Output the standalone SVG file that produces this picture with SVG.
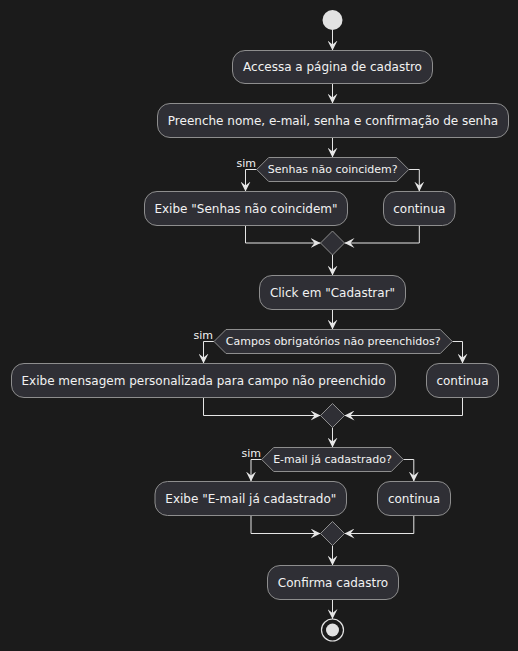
<svg xmlns="http://www.w3.org/2000/svg" width="518" height="651" viewBox="0 0 518 651">
<defs>
<style>
.bg{fill:#1b1b1b}
.box{fill:#2f2f35;stroke:#8e8e8e;stroke-width:1}
.hex{fill:#2f2f35;stroke:#8e8e8e;stroke-width:1}
.t{font-family:"DejaVu Sans",sans-serif;font-size:12px;fill:#f2f2f2;text-anchor:middle}
.td{font-family:"DejaVu Sans",sans-serif;font-size:11px;fill:#f2f2f2;text-anchor:middle}
.ts{font-family:"DejaVu Sans",sans-serif;font-size:11px;fill:#f2f2f2;text-anchor:end}
.ln{fill:none;stroke:#e6e6e6;stroke-width:1;marker-end:url(#ah)}
</style>
<marker id="ah" viewBox="0 0 10 10" refX="10" refY="5" markerWidth="10" markerHeight="10" markerUnits="userSpaceOnUse" orient="auto">
<path d="M0,0 L10,5 L0,10 L4,5 Z" fill="#e6e6e6"/>
</marker>
</defs>
<rect class="bg" x="0" y="0" width="518" height="651"/>

<g id="connectors">
<path class="ln" d="M332.5,30 V50.5"/>
<path class="ln" d="M332.5,83.5 V103.5"/>
<path class="ln" d="M332.5,137.5 V157.5"/>
<path class="ln" d="M256.7,169.5 H245.5 V191.5"/>
<path class="ln" d="M408.7,169.5 H419.3 V191.5"/>
<path class="ln" d="M245.5,225.5 V243 H320.5"/>
<path class="ln" d="M419.3,225.5 V243 H344.5"/>
<path class="ln" d="M332.5,255 V275.5"/>
<path class="ln" d="M332.5,309.5 V329.5"/>
<path class="ln" d="M214,341.5 H203.5 V363.5"/>
<path class="ln" d="M452.3,341.5 H462.5 V363.5"/>
<path class="ln" d="M203.5,397.5 V415.5 H320.5"/>
<path class="ln" d="M462.5,397.5 V415.5 H344.5"/>
<path class="ln" d="M332.5,427.5 V447.5"/>
<path class="ln" d="M261.7,459.5 H251 V481.5"/>
<path class="ln" d="M403.3,459.5 H413.8 V481.5"/>
<path class="ln" d="M251,515.5 V533.5 H320.5"/>
<path class="ln" d="M413.8,515.5 V533.5 H344.5"/>
<path class="ln" d="M332.5,545.5 V565.5"/>
<path class="ln" d="M332.5,599.5 V619"/>
</g>

<g id="start"><circle cx="332.5" cy="20" r="10" fill="#e2e2e2"/></g>

<g id="n1"><rect class="box" x="232.5" y="50.5" width="200" height="33" rx="12.5"/><text class="t" x="332.5" y="71.3">Accessa a página de cadastro</text></g>
<g id="n2"><rect class="box" x="157.5" y="103.5" width="351" height="34" rx="12.5"/><text class="t" x="333" y="124.8">Preenche nome, e-mail, senha e confirmação de senha</text></g>

<g id="d1"><polygon class="hex" points="256.7,169.5 268.7,157.5 396.7,157.5 408.7,169.5 396.7,181.5 268.7,181.5"/><text class="td" x="332.7" y="173.4">Senhas não coincidem?</text><text class="ts" x="256" y="166.5">sim</text></g>
<g id="n3"><rect class="box" x="144.5" y="191.5" width="203" height="34" rx="12.5"/><text class="t" x="246" y="212.8">Exibe "Senhas não coincidem"</text></g>
<g id="n4"><rect class="box" x="383.5" y="191.5" width="71.5" height="34" rx="12.5"/><text class="t" x="419.3" y="212.8">continua</text></g>
<g id="m1"><polygon class="hex" points="332.5,231 344.5,243 332.5,255 320.5,243"/></g>

<g id="n5"><rect class="box" x="259.5" y="275.5" width="146" height="34" rx="12.5"/><text class="t" x="332.5" y="296.8">Click em "Cadastrar"</text></g>
<g id="d2"><polygon class="hex" points="214,341.5 226,329.5 440.3,329.5 452.3,341.5 440.3,353.5 226,353.5"/><text class="td" x="333.2" y="345.4">Campos obrigatórios não preenchidos?</text><text class="ts" x="213" y="338.5">sim</text></g>
<g id="n6"><rect class="box" x="11.5" y="363.5" width="384" height="34" rx="12.5"/><text class="t" x="203.5" y="384.8">Exibe mensagem personalizada para campo não preenchido</text></g>
<g id="n7"><rect class="box" x="426.5" y="363.5" width="72" height="34" rx="12.5"/><text class="t" x="462.5" y="384.8">continua</text></g>
<g id="m2"><polygon class="hex" points="332.5,403.5 344.5,415.5 332.5,427.5 320.5,415.5"/></g>

<g id="d3"><polygon class="hex" points="261.7,459.5 273.7,447.5 391.3,447.5 403.3,459.5 391.3,471.5 273.7,471.5"/><text class="td" x="332.5" y="463.4">E-mail já cadastrado?</text><text class="ts" x="261" y="456.5">sim</text></g>
<g id="n8"><rect class="box" x="155" y="481.5" width="191.5" height="34" rx="12.5"/><text class="t" x="250.8" y="502.8">Exibe "E-mail já cadastrado"</text></g>
<g id="n9"><rect class="box" x="377.5" y="481.5" width="73" height="34" rx="12.5"/><text class="t" x="414" y="502.8">continua</text></g>
<g id="m3"><polygon class="hex" points="332.5,521.5 344.5,533.5 332.5,545.5 320.5,533.5"/></g>

<g id="n10"><rect class="box" x="267.5" y="565.5" width="131" height="34" rx="12.5"/><text class="t" x="333" y="586.8">Confirma cadastro</text></g>
<g id="end"><circle cx="332.5" cy="630" r="11" fill="none" stroke="#e2e2e2" stroke-width="1.2"/><circle cx="332.5" cy="630" r="6.5" fill="#e2e2e2"/></g>
</svg>
